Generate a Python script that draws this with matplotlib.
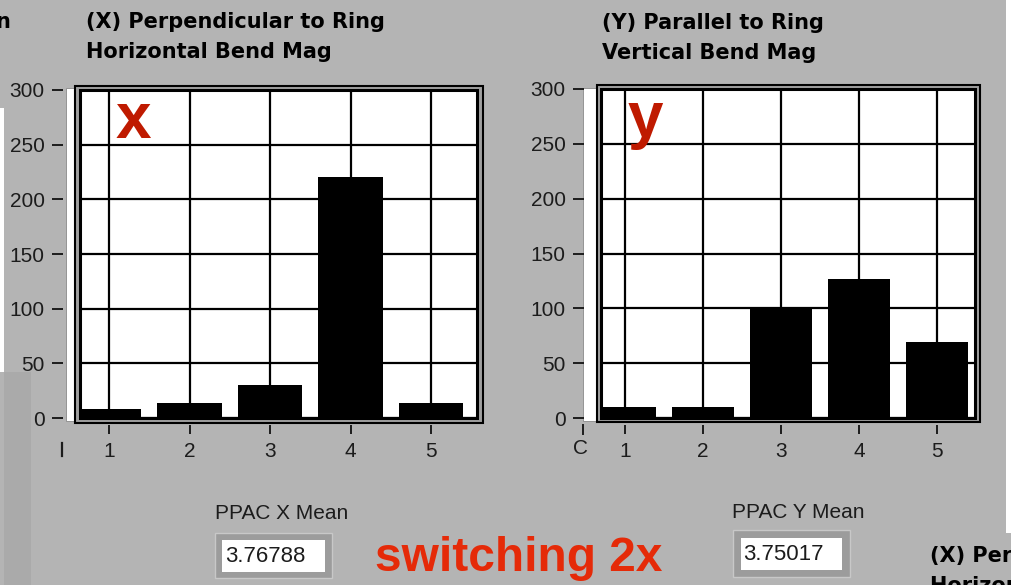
import matplotlib
matplotlib.use("Agg")
import matplotlib.pyplot as plt
from matplotlib.patches import Rectangle
from matplotlib.lines import Line2D

# ============================
# Data
# ============================
bins = [1, 2, 3, 4, 5]
x_counts = [8, 14, 30, 220, 14]      # (X) Perpendicular to Ring
y_counts = [10, 10, 100, 127, 69]    # (Y) Parallel to Ring
y_ticks = [0, 50, 100, 150, 200, 250, 300]
x_mean = "3.76788"
y_mean = "3.75017"

W, H = 1011, 585
BG = "#b4b4b4"
INK = "#1c1c1c"

fig = plt.figure(figsize=(W / 100, H / 100), dpi=100, facecolor=BG)


def fx(x):
    return x / W


def fy(y):
    return 1 - y / H


def fig_rect(x0, y0, x1, y1, **kw):
    # rectangle in screen pixels (top-left origin)
    r = Rectangle((fx(x0), fy(y1)), fx(x1) - fx(x0), fy(y0) - fy(y1),
                  transform=fig.transFigure, **kw)
    fig.patches.append(r)
    return r


# odd background bits of the LabVIEW panel
fig_rect(0, 108, 4, 372, facecolor="white", edgecolor="none", zorder=-5)
fig_rect(4, 372, 31, 585, facecolor="#aaaaaa", edgecolor="none", zorder=-5)
fig_rect(1006, 0, 1011, 533, facecolor="white", edgecolor="none", zorder=-5)


def histo(rect_px, xlim, vals, frame_px, strip_px):
    x0, y0, x1, y1 = rect_px
    ax = fig.add_axes([fx(x0), fy(y1), fx(x1) - fx(x0), fy(y0) - fy(y1)])
    ax.set_facecolor("white")
    ax.bar(bins, vals, width=0.8, color="black", zorder=3)
    ax.set_xlim(*xlim)
    ax.set_ylim(0, 300)
    ax.set_xticks(bins)
    ax.set_yticks(y_ticks)
    ax.grid(True, color="black", linewidth=1.6, zorder=1)
    ax.set_axisbelow(True)
    for s in ax.spines.values():
        s.set_visible(False)
    ax.spines["left"].set_position(("outward", 12.5))
    ax.spines["bottom"].set_position(("outward", 5))
    ax.tick_params(axis="y", direction="out", length=8, width=1.4, pad=5,
                   color=INK, labelcolor=INK, labelsize=15)
    ax.tick_params(axis="x", direction="out", length=6.3, width=1.4, pad=6,
                   color=INK, labelcolor=INK, labelsize=15)
    for lab in ax.get_xticklabels() + ax.get_yticklabels():
        lab.set_fontfamily("Liberation Sans")
    # inner frame line
    ax.add_patch(Rectangle((0, 0), 1, 1, transform=ax.transAxes, fill=False,
                           edgecolor="black", linewidth=2.2, clip_on=False,
                           zorder=5))
    # outer frame + white strip
    fig_rect(*frame_px, facecolor="#a0a0a0", edgecolor="black",
             linewidth=1.5, zorder=-1)
    fig_rect(*strip_px, facecolor="white", edgecolor="#8a8a8a",
             linewidth=0.6, zorder=-2)
    return ax


axL = histo((80, 90, 477, 418), (0.64, 5.57), x_counts,
            (75, 86, 483, 423), (66, 88, 76, 421))
axR = histo((601, 89, 975, 418), (0.69, 5.49), y_counts,
            (597, 85, 980, 422), (583, 88, 598, 421))

# titles
tkw = dict(fontsize=15, fontweight="bold", family="DejaVu Sans",
           color="black", va="top", ha="left")
fig.text(fx(86), fy(12), "(X) Perpendicular to Ring", **tkw)
fig.text(fx(86), fy(42), "Horizontal Bend Mag", **tkw)
fig.text(fx(602), fy(13), "(Y) Parallel to Ring", **tkw)
fig.text(fx(602), fy(43), "Vertical Bend Mag", **tkw)
fig.text(fx(930), fy(546), "(X) Perpendicular to Ring", **tkw)
fig.text(fx(930), fy(576), "Horizontal Bend Mag", **tkw)
fig.text(fx(-5), fy(12), "n", **tkw)

# big red axis letters
rkw = dict(fontsize=46, fontweight="bold", family="Liberation Sans",
           color="#bf1a00", va="baseline", ha="left")
axL.text(0.09, 0.855, "x", transform=axL.transAxes, **rkw)
axR.text(0.07, 0.855, "y", transform=axR.transAxes, **rkw)

# stray tick fragments at the left of each x axis
fig.lines.append(Line2D([fx(62), fx(62)], [fy(443), fy(456)],
                        transform=fig.transFigure, color=INK, lw=1.6))
fig.lines.append(Line2D([fx(583), fx(583)], [fy(425), fy(434)],
                        transform=fig.transFigure, color=INK, lw=1.4))
fig.text(fx(580), fy(449), "C", fontsize=15, family="Liberation Sans",
         color=INK, ha="center", va="center")

# mean indicators
lkw = dict(fontsize=15, family="Liberation Sans", color=INK,
           ha="left", va="top")
fig.text(fx(215), fy(504), "PPAC X Mean", **lkw)
fig.text(fx(732), fy(503), "PPAC Y Mean", **lkw)

fig_rect(215, 533, 332, 578, facecolor="#9c9c9c", edgecolor="#c8c8c8",
         linewidth=1.0)
fig_rect(222, 540, 325, 572, facecolor="white", edgecolor="none")
fig_rect(733, 530, 850, 577, facecolor="#9c9c9c", edgecolor="#c8c8c8",
         linewidth=1.0)
fig_rect(741, 538, 842, 570, facecolor="white", edgecolor="none")

vkw = dict(fontsize=16, family="Liberation Sans", color=INK,
           ha="left", va="center")
fig.text(fx(225), fy(556), x_mean, **vkw)
fig.text(fx(743), fy(554), y_mean, **vkw)

fig.text(fx(375), fy(571), "switching 2x", fontsize=34.5,
         fontweight="bold", family="Liberation Sans", color="#e52a08",
         ha="left", va="baseline")

fig.savefig("out.png", dpi=100, facecolor=BG)
